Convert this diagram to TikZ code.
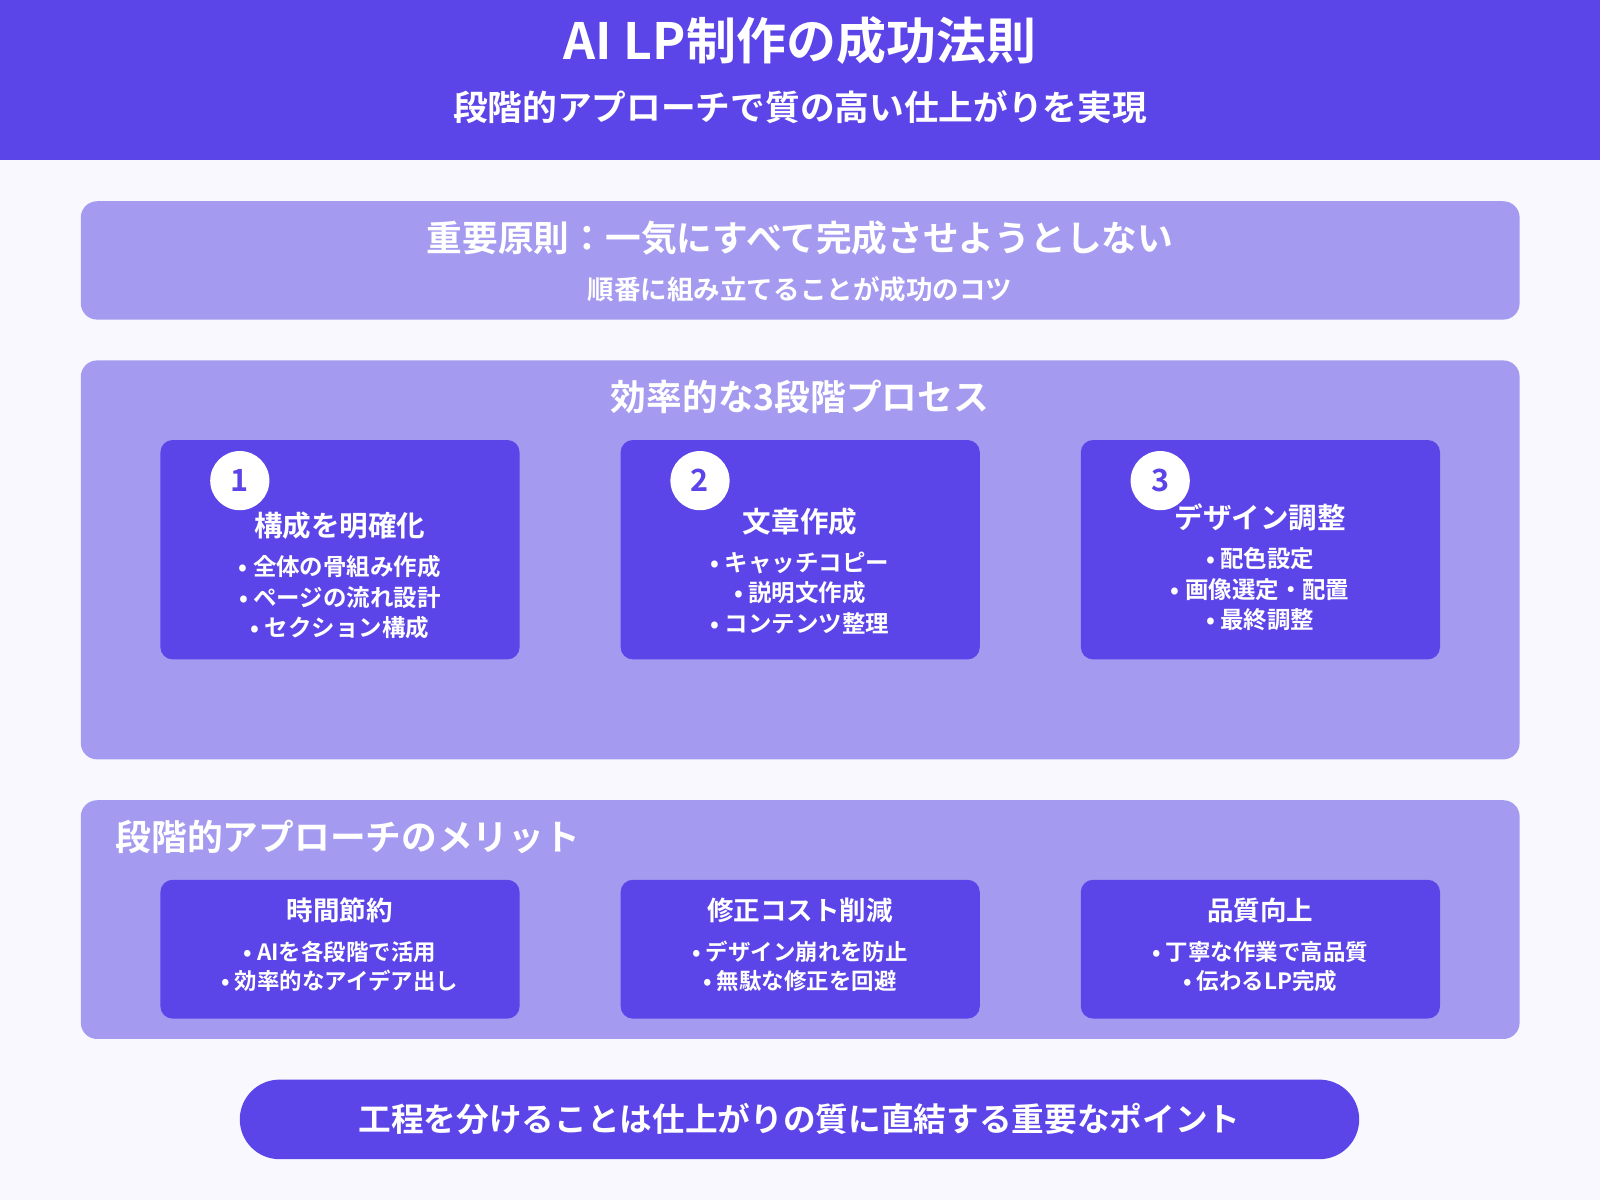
\documentclass[tikz,border=0pt]{standalone}
\usepackage{fontspec}
\setmainfont{Noto Sans CJK JP Bold}
\usetikzlibrary{positioning}
\definecolor{deep}{HTML}{5B45E8}
\definecolor{soft}{HTML}{A49BF0}
\definecolor{paper}{HTML}{F8F8FE}
\newcommand{\fs}[1]{\fontsize{#1}{\fpeval{#1*1.3}}\selectfont}
\tikzset{
  panel/.style={fill=soft, rounded corners=16pt, anchor=north west},
  card/.style={fill=deep, rounded corners=12pt, minimum width=352pt, anchor=north west},
  txt/.style={text=white, align=center},
  badge/.style={circle, fill=white, minimum size=58pt, text=deep, font=\fs{30}}
}
\begin{document}
\begin{tikzpicture}[x=1pt,y=-1pt]
  \useasboundingbox (0,0) rectangle (1568,1176);
  \fill[paper] (0,0) rectangle (1568,1176);
  % header
  \fill[deep] (0,0) rectangle (1568,157);
  \node[txt, font=\fs{49}] (title) at (784,40) {AI LP制作の成功法則};
  \node[txt, font=\fs{34}] (subtitle) at (784,105) {段階的アプローチで質の高い仕上がりを実現};

  % principle
  \node[panel, minimum width=1410pt, minimum height=116pt] (rule) at (79,197) {};
  \node[txt, font=\fs{35}] (ruletitle) at (784,233) {重要原則：一気にすべて完成させようとしない};
  \node[txt, font=\fs{26}] (rulesub) at (784,284) {順番に組み立てることが成功のコツ};

  % process
  \node[panel, minimum width=1410pt, minimum height=391pt] (process) at (79,353) {};
  \node[txt, font=\fs{35}] (proctitle) at (784,389) {効率的な3段階プロセス};
  \foreach \x/\n/\ty/\t/\b in {
      157/1/515/構成を明確化/{• 全体の骨組み作成\\• ページの流れ設計\\• セクション構成},
      608/2/511/文章作成/{• キャッチコピー\\• 説明文作成\\• コンテンツ整理},
      1059/3/507/デザイン調整/{• 配色設定\\• 画像選定・配置\\• 最終調整}} {
    \node[card, minimum height=215pt] (step\n) at (\x,431) {};
    \node[badge] (badge\n) at (\x+78,471) {\n};
    \node[txt, font=\fs{28}] (steptitle\n) at (\x+176,\ty) {\t};
    \node[txt, font=\fs{23}, below=9pt of steptitle\n] (steplist\n) {\b};
  }

  % merits
  \node[panel, minimum width=1410pt, minimum height=234pt] (merit) at (79,784) {};
  \node[txt, font=\fs{35}, anchor=west] (merittitle) at (110,820) {段階的アプローチのメリット};
  \foreach \x/\n/\t/\b in {
      157/1/時間節約/{• AIを各段階で活用\\• 効率的なアイデア出し},
      608/2/修正コスト削減/{• デザイン崩れを防止\\• 無駄な修正を回避},
      1059/3/品質向上/{• 丁寧な作業で高品質\\• 伝わるLP完成}} {
    \node[card, minimum height=136pt] (gain\n) at (\x,862) {};
    \node[txt, font=\fs{26}] (gaintitle\n) at (\x+176,892) {\t};
    \node[txt, font=\fs{22}, below=11pt of gaintitle\n] (gainlist\n) {\b};
  }

  % bottom line
  \node[fill=deep, rounded corners=39pt, minimum width=1097pt, minimum height=78pt,
        txt, font=\fs{32}] (point) at (783.5,1097) {工程を分けることは仕上がりの質に直結する重要なポイント};
\end{tikzpicture}
\end{document}
